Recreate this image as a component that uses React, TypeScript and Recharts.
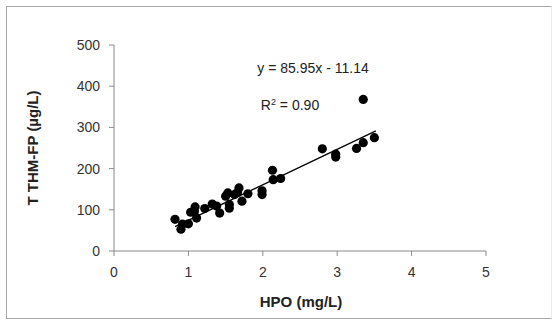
import { ScatterChart, Scatter, XAxis, YAxis, ReferenceLine } from "recharts"

// HPO (mg/L) vs T THM-FP (µg/L)
const hpo = [
  0.82, 0.9, 0.92, 1.0, 1.03, 1.08, 1.09, 1.11, 1.22, 1.32, 1.38, 1.42, 1.5, 1.53, 1.55, 1.55,
  1.62, 1.66, 1.68, 1.72, 1.8, 1.99, 1.99, 2.13, 2.14, 2.24, 2.8, 2.98, 2.98, 3.26, 3.35, 3.35, 3.5,
]
const thmfp = [
  77, 53, 65, 66, 94, 96, 107, 80, 103, 114, 109, 92, 133, 141, 113, 104,
  137, 142, 153, 121, 139, 146, 137, 196, 173, 176, 248, 235, 228, 249, 263, 368, 275,
]
const xTicks = [0, 1, 2, 3, 4, 5]
const yTicks = [0, 100, 200, 300, 400, 500]

// fitted line y = 85.95x - 11.14
const slope = 85.95
const intercept = -11.14
const fitRange = [0.82, 3.52]

const font = "'Liberation Sans', Arial, sans-serif"

export default function App() {
  const data = hpo.map((x, i) => ({ x, y: thmfp[i] }))
  const fitSegment = fitRange.map((x) => ({ x, y: slope * x + intercept }))

  const Dot = (props: any) => <circle cx={props.cx} cy={props.cy} r={4.6} fill="#000" />

  return (
    <div style={{ position: "absolute", left: 0, top: 0, width: 555, height: 320, background: "#fff", fontFamily: font }}>
      <div
        style={{
          position: "absolute",
          left: 6,
          top: 6,
          width: 544,
          height: 311,
          borderTop: "1px solid #a8a8a8",
          borderLeft: "1px solid #a8a8a8",
          borderBottom: "1px solid #a8a8a8",
          borderRight: "1px solid #ececec",
        }}
      />
      <ScatterChart width={555} height={320} margin={{ top: 45, right: 69, bottom: 39, left: 54 }} style={{ position: "absolute", left: 0, top: 0 }}>
        <XAxis
          type="number"
          dataKey="x"
          domain={[0, 5]}
          ticks={xTicks}
          height={30}
          tickSize={5}
          tickMargin={11}
          stroke="#8a8a8a"
          tick={{ fill: "#333", fontSize: 14, fontFamily: font }}
        />
        <YAxis
          type="number"
          dataKey="y"
          domain={[0, 500]}
          ticks={yTicks}
          width={60}
          tickSize={5}
          tickMargin={9}
          stroke="#8a8a8a"
          tick={{ fill: "#333", fontSize: 14, fontFamily: font }}
        />
        <ReferenceLine segment={fitSegment} stroke="#000" strokeWidth={1.3} ifOverflow="extendDomain" />
        <Scatter data={data} shape={Dot} isAnimationActive={false} />
      </ScatterChart>
      <svg width={555} height={320} style={{ position: "absolute", left: 0, top: 0, pointerEvents: "none" }}>
        <text x={313} y={73} textAnchor="middle" fontSize={14} fill="#222" fontFamily={font}>
          y = 85.95x - 11.14
        </text>
        <text x={290} y={110} textAnchor="middle" fontSize={14} fill="#222" fontFamily={font}>
          R<tspan dy={-5} fontSize={9}>2</tspan>
          <tspan dy={5}> = 0.90</tspan>
        </text>
        <text x={301} y={307} textAnchor="middle" fontSize={15} fontWeight="bold" fill="#222" fontFamily={font}>
          HPO (mg/L)
        </text>
        <text
          x={38}
          y={148}
          textAnchor="middle"
          fontSize={15}
          fontWeight="bold"
          fill="#222"
          fontFamily={font}
          transform="rotate(-90 38 148)"
        >
          T THM-FP (µg/L)
        </text>
      </svg>
    </div>
  )
}
